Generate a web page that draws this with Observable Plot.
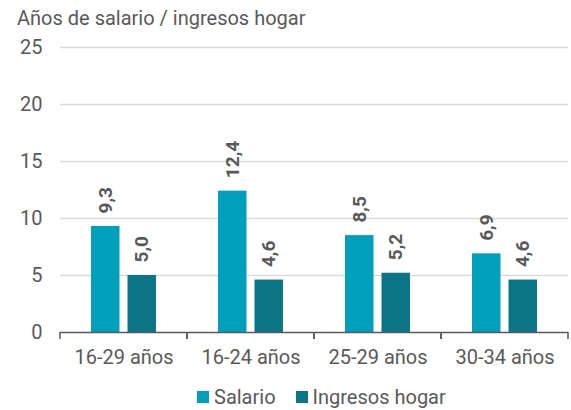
<!DOCTYPE html>
<html>
<head>
<meta charset="utf-8">
<script src="https://cdn.jsdelivr.net/npm/d3@7"></script>
<script src="https://cdn.jsdelivr.net/npm/@observablehq/plot@0.6"></script>
<style>
  body { margin: 0; background: #fff; font-family: Roboto, "Noto Sans", sans-serif; color: #595959; }
  #title { height: 34px; line-height: 36px; padding-left: 17px; font-size: 20px; color: #595959; }
  #legend { height: 50px; display: flex; align-items: center; padding-left: 197px; font-size: 20px; color: #595959; }
  .sw { display: inline-block; width: 12px; height: 12px; margin-right: 5px; }
  .item { display: flex; align-items: center; margin-right: 20px; }
</style>
</head>
<body>
<div id="title">Años de salario / ingresos hogar</div>
<div id="chart"></div>
<div id="legend"></div>
<script>
const groups = ["16-29 años", "16-24 años", "25-29 años", "30-34 años"];
const seriesNames = ["Salario", "Ingresos hogar"];
const salario = [9.3, 12.4, 8.5, 6.9];
const ingresos = [5.0, 4.6, 5.2, 4.6];
const yTicks = [0, 5, 10, 15, 20, 25];
const colors = ["#00A0BC", "#0A7586"];

const rows = [];
groups.forEach((g, i) => {
  rows.push({group: g, series: seriesNames[0], value: salario[i]});
  rows.push({group: g, series: seriesNames[1], value: ingresos[i]});
});

const fmt = v => v.toFixed(1).replace(".", ",");

const boundaryTicks = (index, scales, values, dims) => {
  const g = d3.create("svg:g").attr("stroke", "#595959").attr("stroke-width", 1.5);
  const y0 = scales.y(0);
  const x0 = dims.marginLeft, x1 = dims.width - dims.marginRight;
  for (const x of [x0, x1]) {
    g.append("line").attr("x1", x).attr("x2", x).attr("y1", y0).attr("y2", y0 + 7);
  }
  return g.node();
};

const chart = Plot.plot({
  width: 571,
  height: 338,
  marginTop: 13,
  marginBottom: 40,
  marginLeft: 60,
  marginRight: 3,
  style: {fontFamily: "Roboto, 'Noto Sans', sans-serif", fontSize: "20px", color: "#595959", background: "#fff"},
  facet: {data: rows, x: "group"},
  fx: {domain: groups, axis: "bottom", padding: 0, label: null, tickSize: 0, tickPadding: 17, round: false},
  x: {domain: seriesNames, axis: null, paddingInner: 0.22, paddingOuter: 0.85, round: false},
  y: {domain: [0, 25], ticks: yTicks, tickSize: 0, tickPadding: 18, label: null, tickFormat: d => String(d)},
  color: {domain: seriesNames, range: colors},
  marks: [
    Plot.ruleY(yTicks.filter(d => d > 0), {stroke: "#d9d9d9", strokeWidth: 1.5}),
    Plot.barY(rows, {x: "series", y: "value", fill: "series"}),
    Plot.text(rows, {x: "series", y: "value", text: d => fmt(d.value), rotate: -90, textAnchor: "start", dy: -13, fontWeight: "bold", fill: "#595959", fontSize: 19}),
    Plot.ruleY([0], {stroke: "#595959", strokeWidth: 1.5}),
    boundaryTicks
  ]
});
document.getElementById("chart").appendChild(chart);

const legend = document.getElementById("legend");
seriesNames.forEach((s, i) => {
  const it = document.createElement("div");
  it.className = "item";
  const sw = document.createElement("span");
  sw.className = "sw";
  sw.style.background = colors[i];
  it.appendChild(sw);
  it.appendChild(document.createTextNode(s));
  legend.appendChild(it);
});
</script>
</body>
</html>
